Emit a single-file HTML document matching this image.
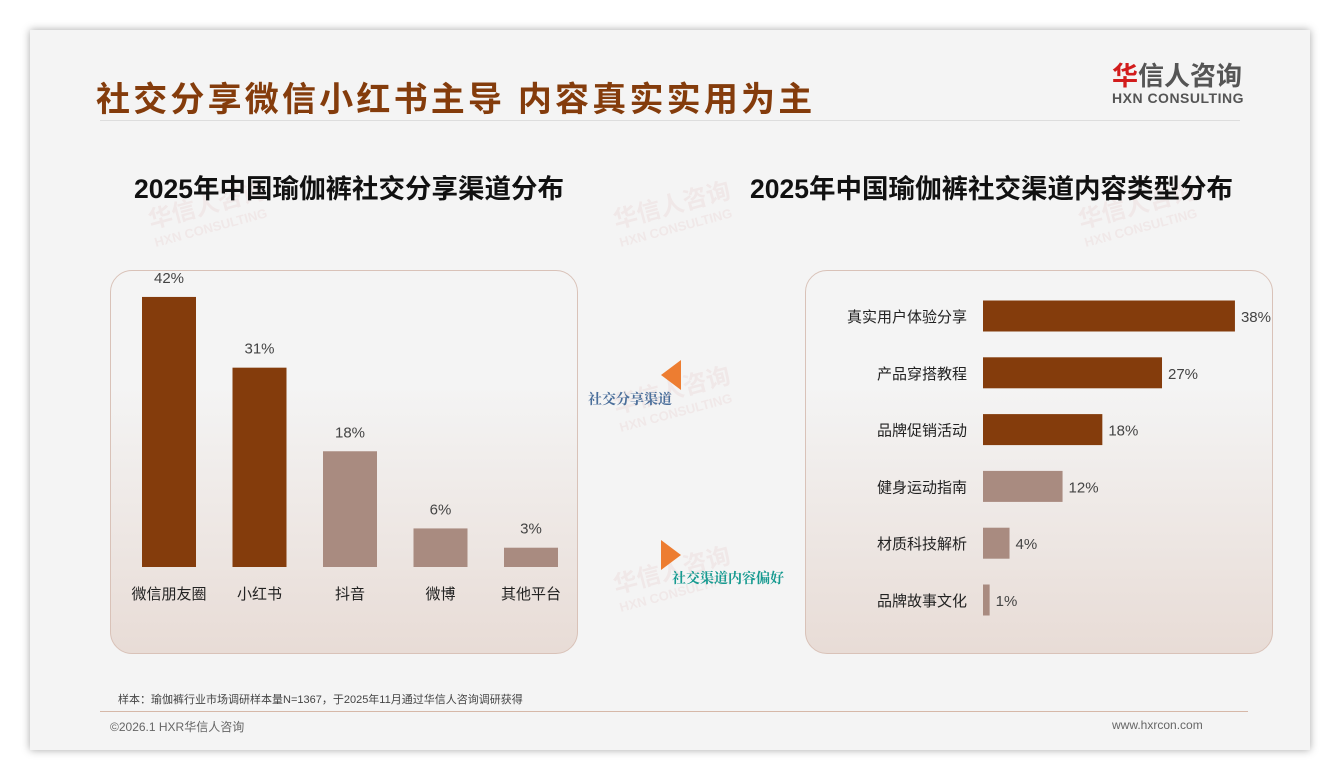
<!DOCTYPE html>
<html><head><meta charset="utf-8">
<style>
body{margin:0;width:1340px;height:780px;background:#fff;font-family:"Liberation Sans","Noto Sans CJK SC",sans-serif;position:relative;overflow:hidden}
.slide{position:absolute;left:30px;top:30px;width:1280px;height:720px;background:#f4f4f4;box-shadow:0 0 8px rgba(0,0,0,.35)}
.a{position:absolute;white-space:nowrap}
.panel{position:absolute;top:270px;width:466px;height:382px;border:1px solid #d9c2b8;border-radius:22px;background:linear-gradient(#f4f4f4 0%,#f4f4f4 30%,#e8dcd6 100%)}
.wm{position:absolute;color:rgba(200,80,80,.07);font-weight:bold;transform:rotate(-15deg);font-size:24px;line-height:22px}
.wm small{display:block;font-size:13px}
</style></head><body>
<div class="slide"></div>
<div class="a" style="left:96px;top:72px;font-size:34px;font-weight:bold;color:#843c0c;letter-spacing:3.2px">社交分享微信小红书主导 内容真实实用为主</div>
<div class="a" style="left:1112px;top:62px;font-size:26px;font-weight:bold;color:#555;line-height:28px"><span style="color:#d21c1c">华</span>信人咨询<div style="font-size:14px;line-height:16px;letter-spacing:0.5px">HXN CONSULTING</div></div>
<div class="a" style="left:100px;top:120px;width:1140px;height:1px;background:#ddd"></div>

<div class="wm" style="left:150px;top:195px">华信人咨询<small>HXN CONSULTING</small></div>
<div class="wm" style="left:615px;top:195px">华信人咨询<small>HXN CONSULTING</small></div>
<div class="wm" style="left:1080px;top:195px">华信人咨询<small>HXN CONSULTING</small></div>
<div class="wm" style="left:150px;top:380px">华信人咨询<small>HXN CONSULTING</small></div>
<div class="wm" style="left:615px;top:380px">华信人咨询<small>HXN CONSULTING</small></div>
<div class="wm" style="left:1080px;top:380px">华信人咨询<small>HXN CONSULTING</small></div>
<div class="wm" style="left:615px;top:560px">华信人咨询<small>HXN CONSULTING</small></div>
<div class="wm" style="left:1080px;top:560px">华信人咨询<small>HXN CONSULTING</small></div>

<div class="a" style="left:110px;width:478px;text-align:center;top:167px;font-size:26.5px;font-weight:bold;color:#111">2025年中国瑜伽裤社交分享渠道分布</div>
<div class="a" style="left:750px;width:478px;text-align:center;top:167px;font-size:26.5px;font-weight:bold;color:#111">2025年中国瑜伽裤社交渠道内容类型分布</div>

<div class="panel" style="left:110px"></div>
<div class="panel" style="left:805px"></div>

<svg class="a" style="left:0;top:0" width="1340" height="780" id="chart">
<polygon points="681,360 681,390 661,375" fill="#ed7d31"/>
<polygon points="661,540 661,570 681,555" fill="#ed7d31"/>
<text x="588" y="404" font-size="14" font-weight="bold" fill="#4a6e9a" font-family="Liberation Serif,Noto Serif CJK SC,serif">社交分享渠道</text>
<text x="672" y="583" font-size="14" font-weight="bold" fill="#169a90" font-family="Liberation Serif,Noto Serif CJK SC,serif">社交渠道内容偏好</text>
</svg>

<div class="a" style="left:118px;top:691px;font-size:11px;color:#444">样本：瑜伽裤行业市场调研样本量N=1367，于2025年11月通过华信人咨询调研获得</div>
<div class="a" style="left:100px;top:711px;width:1148px;height:1px;background:#d6b8a8"></div>
<div class="a" style="left:110px;top:718px;font-size:12px;color:#666">©2026.1 HXR华信人咨询</div>
<div class="a" style="left:1112px;top:718px;font-size:12px;color:#666">www.hxrcon.com</div>

<script>
const chCats=["微信朋友圈","小红书","抖音","微博","其他平台"];
const chVals=[42,31,18,6,3];
const ctCats=["真实用户体验分享","产品穿搭教程","品牌促销活动","健身运动指南","材质科技解析","品牌故事文化"];
const ctVals=[38,27,18,12,4,1];
const DARK="#843c0c",LIGHT="#a98b80";
const svg=document.getElementById('chart');
const NS="http://www.w3.org/2000/svg";
function mk(t,a,txt){const e=document.createElementNS(NS,t);for(const k in a)e.setAttribute(k,a[k]);if(txt!=null)e.textContent=txt;svg.appendChild(e);return e;}
const base=567,yScale=v=>v*6.43,xc=i=>169+i*90.5;
chCats.forEach((c,i)=>{
 const h=yScale(chVals[i]);
 const r=mk('rect',{x:xc(i)-27,y:base-h,width:54,height:h,fill:i<2?DARK:LIGHT});
 
 
 const t=mk('text',{x:xc(i),y:base-h-14,'text-anchor':'middle','font-size':15,fill:'#444'},chVals[i]+'%');
 
 
 const l=mk('text',{x:xc(i),y:599,'text-anchor':'middle','font-size':15,fill:'#222'},c);
 
 
});
const x0=983,xS=v=>v*6.63,yc=i=>316+i*56.8;
ctCats.forEach((c,i)=>{
 const w=xS(ctVals[i]);
 const r=mk('rect',{x:x0,y:yc(i)-15.5,width:w,height:31,fill:i<3?DARK:LIGHT});
 
 
 const t=mk('text',{x:x0+w+6,y:yc(i)+6,'font-size':15,fill:'#444'},ctVals[i]+'%');
 
 
 const l=mk('text',{x:967,y:yc(i)+6,'text-anchor':'end','font-size':15,fill:'#222'},c);
 
 
});
</script>
</body></html>
